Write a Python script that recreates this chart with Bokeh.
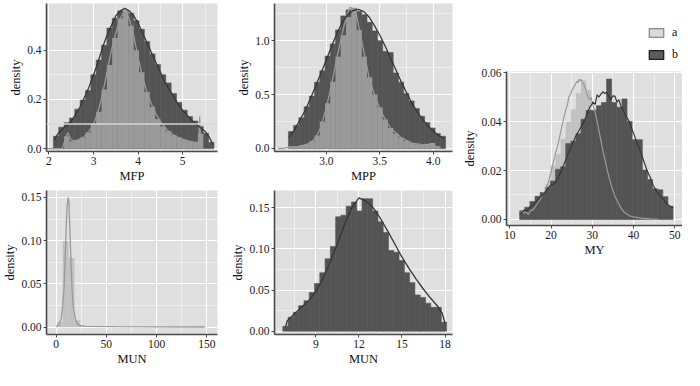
from bokeh.plotting import figure
from bokeh.layouts import row, column
from bokeh.models import (Range1d, FixedTicker, PrintfTickFormatter, Span, Legend,
                          LegendItem, ColumnDataSource)
from bokeh.embed import file_html
from bokeh.resources import INLINE

# ---------------- data ----------------
# MFP panel
MFP_BIN_LEFT = [2.10, 2.22, 2.34, 2.46, 2.58, 2.70, 2.82, 2.94, 3.06, 3.18,
                3.30, 3.42, 3.54, 3.66, 3.78, 3.90, 4.02, 4.14, 4.26, 4.38,
                4.50, 4.62, 4.74, 4.86, 4.98, 5.10, 5.22, 5.34, 5.46, 5.58]
MFP_BIN_WIDTH = 0.12
MFP_B_HIST = [0.05, 0.087, 0.105, 0.124, 0.16, 0.197, 0.236, 0.30, 0.36, 0.42,
              0.49, 0.53, 0.56, 0.56, 0.55, 0.52, 0.485, 0.435, 0.385, 0.342,
              0.30, 0.267, 0.224, 0.187, 0.156, 0.13, 0.112, 0.09, 0.062, 0.025]
MFP_A_HIST = [0.0, 0.0, 0.05, 0.03, 0.035, 0.045, 0.065, 0.10, 0.15, 0.24,
              0.34, 0.45, 0.53, 0.56, 0.50, 0.40, 0.31, 0.23, 0.17, 0.12,
              0.09, 0.07, 0.055, 0.045, 0.035, 0.03, 0.025, 0.06, 0.0, 0.0]
MFP_A_X = [1.95, 2.30, 2.35, 2.42, 2.50, 2.60, 2.70, 2.80, 2.90, 3.00, 3.10, 3.20,
           3.30, 3.40, 3.50, 3.60, 3.70, 3.80, 3.90, 4.00, 4.10, 4.20, 4.30, 4.40,
           4.50, 4.60, 4.70, 4.80, 4.90, 5.00, 5.10, 5.20, 5.30, 5.36, 5.38, 5.40, 5.45]
MFP_A_DENS = [0.0, 0.0, 0.03, 0.065, 0.035, 0.03, 0.04, 0.05, 0.07, 0.10, 0.15, 0.22,
              0.31, 0.40, 0.47, 0.53, 0.56, 0.53, 0.46, 0.37, 0.29, 0.23, 0.18, 0.14,
              0.11, 0.085, 0.068, 0.055, 0.045, 0.038, 0.032, 0.028, 0.025, 0.025, 0.13, 0.03, 0.0]
MFP_B_X = [2.12, 2.20, 2.30, 2.40, 2.50, 2.60, 2.70, 2.80, 2.90, 3.00, 3.10, 3.20,
           3.30, 3.40, 3.50, 3.60, 3.70, 3.80, 3.90, 4.00, 4.10, 4.20, 4.30, 4.40,
           4.50, 4.60, 4.70, 4.80, 4.90, 5.00, 5.10, 5.20, 5.30, 5.40, 5.50, 5.60, 5.68]
MFP_B_DENS = [0.035, 0.06, 0.08, 0.095, 0.11, 0.14, 0.17, 0.21, 0.25, 0.30, 0.35, 0.41,
              0.46, 0.50, 0.54, 0.56, 0.57, 0.56, 0.54, 0.51, 0.47, 0.43, 0.39, 0.35,
              0.31, 0.27, 0.24, 0.21, 0.18, 0.155, 0.135, 0.115, 0.10, 0.085, 0.07, 0.045, 0.015]

# MPP panel
MPP_BIN_LEFT = [2.645, 2.694, 2.743, 2.792, 2.841, 2.890, 2.939, 2.988, 3.037, 3.086,
                3.135, 3.184, 3.233, 3.282, 3.331, 3.380, 3.429, 3.478, 3.527, 3.576,
                3.625, 3.674, 3.723, 3.772, 3.821, 3.870, 3.919, 3.968, 4.017, 4.066]
MPP_BIN_WIDTH = 0.049
MPP_B_HIST = [0.157, 0.214, 0.285, 0.386, 0.486, 0.614, 0.72, 0.857, 0.97, 1.10,
              1.23, 1.285, 1.30, 1.27, 1.24, 1.17, 1.09, 1.0, 0.9, 0.89,
              0.70, 0.614, 0.51, 0.44, 0.37, 0.30, 0.24, 0.19, 0.14, 0.114]
MPP_A_HIST = [0.02, 0.02, 0.03, 0.04, 0.07, 0.12, 0.25, 0.42, 0.62, 0.85,
              1.05, 1.22, 1.30, 1.10, 0.85, 0.66, 0.50, 0.38, 0.27, 0.19,
              0.14, 0.10, 0.07, 0.05, 0.04, 0.035, 0.035, 0.05, 0.02, 0.0]
MPP_A_X = [2.55, 2.60, 2.65, 2.75, 2.85, 2.90, 2.95, 3.00, 3.05, 3.10, 3.15, 3.18, 3.22,
           3.27, 3.30, 3.35, 3.40, 3.45, 3.50, 3.55, 3.60, 3.70, 3.80, 3.90, 4.00, 4.05]
MPP_A_DENS = [0.0, 0.0, 0.01, 0.02, 0.05, 0.10, 0.20, 0.38, 0.60, 0.85, 1.07, 1.20, 1.31,
              1.29, 1.15, 0.90, 0.66, 0.50, 0.37, 0.27, 0.19, 0.10, 0.05, 0.035, 0.04, 0.0]
MPP_B_X = [2.65, 2.70, 2.75, 2.80, 2.85, 2.90, 2.95, 3.00, 3.05, 3.10, 3.15, 3.20, 3.25,
           3.30, 3.35, 3.40, 3.45, 3.50, 3.55, 3.60, 3.65, 3.70, 3.75, 3.80, 3.85, 3.90,
           3.95, 4.00, 4.05, 4.10]
MPP_B_DENS = [0.10, 0.17, 0.26, 0.35, 0.46, 0.58, 0.70, 0.82, 0.95, 1.07, 1.17, 1.24, 1.28,
              1.29, 1.27, 1.22, 1.14, 1.05, 0.95, 0.84, 0.73, 0.62, 0.52, 0.42, 0.34, 0.27,
              0.21, 0.16, 0.12, 0.09]

# MY panel
MY_BIN_LEFT = [12.40, 13.64, 14.88, 16.12, 17.36, 18.60, 19.84, 21.08, 22.32, 23.56,
               24.80, 26.04, 27.28, 28.52, 29.76, 31.00, 32.24, 33.48, 34.72, 35.96,
               37.20, 38.44, 39.68, 40.92, 42.16, 43.40, 44.64, 45.88, 47.12, 48.36]
MY_BIN_WIDTH = 1.24
MY_B_HIST = [0.0035, 0.005, 0.0073, 0.0095, 0.011, 0.013, 0.0157, 0.0205, 0.0215, 0.031,
             0.032, 0.035, 0.041, 0.0446, 0.0446, 0.0465, 0.0478, 0.0574, 0.0478, 0.0459,
             0.0493, 0.040, 0.0326, 0.0326, 0.0202, 0.0163, 0.0125, 0.0121, 0.0093, 0.0054]
MY_A_HIST = [0.003, 0.003, 0.005, 0.008, 0.011, 0.0144, 0.022, 0.0266, 0.033, 0.040,
             0.045, 0.0516, 0.0568, 0.053, 0.044, 0.034, 0.024, 0.016, 0.010, 0.006,
             0.004, 0.002, 0.001, 0.0005, 0.0, 0.0, 0.0, 0.0, 0.0, 0.0]
MY_A_X = [12.4, 13.0, 13.5, 14.0, 14.5, 15.0, 15.7, 16.5, 17.3, 18.0, 18.6, 19.3, 20.0,
          20.5, 21.1, 21.6, 22.0, 22.5, 22.9, 23.3, 23.6, 24.0, 24.3, 24.7, 25.1, 25.5,
          25.8, 26.3, 26.6, 26.8, 27.1, 27.3, 27.6, 27.9, 28.3, 28.6, 29.0, 29.4, 29.7,
          30.1, 30.5, 31.2, 31.9, 32.6, 33.4, 34.1, 34.8, 35.5, 36.3, 37.0, 37.7, 39.0,
          40.0, 42.0, 44.0, 46.0]
MY_A_DENS = [0.002, 0.0035, 0.0025, 0.003, 0.002, 0.0035, 0.004, 0.006, 0.008, 0.010,
             0.0118, 0.015, 0.019, 0.023, 0.027, 0.030, 0.033, 0.037, 0.040, 0.043, 0.045,
             0.047, 0.050, 0.051, 0.053, 0.054, 0.055, 0.0565, 0.056, 0.0574, 0.0568,
             0.0572, 0.0562, 0.0555, 0.054, 0.052, 0.050, 0.049, 0.050, 0.047, 0.045,
             0.040, 0.034, 0.028, 0.022, 0.017, 0.013, 0.0095, 0.0068, 0.0045, 0.003,
             0.0015, 0.001, 0.0005, 0.0002, 0.0]
MY_B_X = [12.4, 13.0, 13.6, 14.2, 14.8, 15.7, 16.5, 17.3, 18.0, 18.6, 19.3, 20.0, 21.1,
          22.0, 22.9, 23.5, 24.2, 25.1, 26.0, 27.2, 28.0, 28.7, 29.4, 29.7, 30.2, 30.7,
          31.2, 31.6, 32.0, 32.6, 33.0, 33.5, 34.0, 34.5, 35.0, 35.5, 36.0, 36.5, 36.9,
          37.4, 38.3, 39.0, 39.8, 40.5, 41.2, 41.9, 42.6, 43.3, 44.1, 44.8, 45.5, 46.2,
          47.0, 47.7, 48.4, 49.0, 49.6]
MY_B_DENS = [0.002, 0.003, 0.004, 0.0035, 0.005, 0.006, 0.0075, 0.009, 0.010, 0.011,
             0.013, 0.014, 0.015, 0.018, 0.0215, 0.024, 0.027, 0.0305, 0.034, 0.0376,
             0.040, 0.043, 0.0459, 0.0465, 0.048, 0.047, 0.051, 0.050, 0.051, 0.0523,
             0.0515, 0.052, 0.0504, 0.049, 0.0505, 0.0504, 0.048, 0.049, 0.0465, 0.045,
             0.042, 0.040, 0.0362, 0.033, 0.0298, 0.027, 0.0234, 0.020, 0.017, 0.014,
             0.0118, 0.010, 0.0087, 0.0072, 0.006, 0.0052, 0.0049]

# MUN panel (wide range, group a only)
MUN1_BIN_LEFT = [0.65, 6.50, 12.35, 18.20]
MUN1_BIN_WIDTH = 5.85
MUN1_A_HIST = [0.006, 0.0995, 0.080, 0.008]
MUN1_A_X = [0, 3, 5, 6.5, 8, 9, 10, 11, 12, 12.7, 13.8, 15, 16, 17.5, 19, 21, 24, 30,
            60, 100, 148]
MUN1_A_DENS = [0.0005, 0.003, 0.010, 0.025, 0.047, 0.08, 0.115, 0.14, 0.150, 0.145,
               0.108, 0.07, 0.04, 0.02, 0.0104, 0.004, 0.0016, 0.0008, 0.0005, 0.0003,
               0.0002]

# MUN panel (narrow range, group b only)
MUN2_BIN_LEFT = [6.700, 7.068, 7.436, 7.804, 8.172, 8.540, 8.908, 9.276, 9.644, 10.012,
                 10.380, 10.748, 11.116, 11.484, 11.852, 12.220, 12.588, 12.956, 13.324,
                 13.692, 14.060, 14.428, 14.796, 15.164, 15.532, 15.900, 16.268, 16.636,
                 17.004, 17.372, 17.740]
MUN2_BIN_WIDTH = 0.368
MUN2_B_HIST = [0.006, 0.017, 0.023, 0.031, 0.037, 0.047, 0.058, 0.071, 0.088, 0.103,
               0.139, 0.141, 0.152, 0.157, 0.146, 0.161, 0.161, 0.146, 0.133, 0.120,
               0.098, 0.096, 0.086, 0.071, 0.059, 0.044, 0.041, 0.034, 0.029, 0.029, 0.011]
MUN2_B_X = [6.9, 7.0, 7.5, 8.0, 8.5, 9.0, 9.5, 10.0, 10.5, 11.0, 11.5, 12.0, 12.5, 13.0,
            13.5, 14.0, 14.5, 15.0, 15.5, 16.0, 16.5, 17.0, 17.5, 17.8, 18.0]
MUN2_B_DENS = [0.005, 0.0125, 0.021, 0.029, 0.037, 0.048, 0.064, 0.084, 0.106, 0.130,
               0.150, 0.162, 0.158, 0.150, 0.137, 0.122, 0.106, 0.090, 0.076, 0.063,
               0.051, 0.040, 0.030, 0.022, 0.010]

# tick labels
MFP_XTICKS, MFP_XMINOR = [2, 3, 4, 5], [2.5, 3.5, 4.5, 5.5]
MFP_YTICKS, MFP_YMINOR = [0.0, 0.2, 0.4], [0.1, 0.3, 0.5]
MPP_XTICKS, MPP_XMINOR = [3.0, 3.5, 4.0], [2.75, 3.25, 3.75]
MPP_YTICKS, MPP_YMINOR = [0.0, 0.5, 1.0], [0.25, 0.75, 1.25]
MY_XTICKS, MY_XMINOR = [10, 20, 30, 40, 50], [15, 25, 35, 45]
MY_YTICKS, MY_YMINOR = [0.00, 0.02, 0.04, 0.06], [0.01, 0.03, 0.05]
MUN1_XTICKS, MUN1_XMINOR = [0, 50, 100, 150], [25, 75, 125]
MUN_YTICKS, MUN_YMINOR = [0.00, 0.05, 0.10, 0.15], [0.025, 0.075, 0.125]
MUN2_XTICKS, MUN2_XMINOR = [9, 12, 15, 18], [7.5, 10.5, 13.5, 16.5]
GROUPS = ["a", "b"]

# ---------------- style ----------------
BG = "#dfdfdf"
DARK = "#545454"
LIGHT = "#b5b5b5"
LIGHT_ALPHA = 0.72
DARK_LINE = "#363636"
LIGHT_LINE = "#9a9a9a"
FONT = "Liberation Serif"


def make_panel(width, height, xr, yr, xt, xm, yt, ym, xfmt, yfmt, xlabel,
               top=3, right=6, bottom=30, left=30):
    p = figure(width=width, height=height, x_range=Range1d(*xr), y_range=Range1d(*yr),
               output_backend="svg", toolbar_location=None,
               min_border_left=left, min_border_right=right,
               min_border_top=top, min_border_bottom=bottom,
               background_fill_color=BG, border_fill_color="white")
    p.outline_line_color = None
    xtick = FixedTicker(ticks=xt, minor_ticks=xm)
    ytick = FixedTicker(ticks=yt, minor_ticks=ym)
    p.xaxis.ticker = xtick
    p.yaxis.ticker = ytick
    p.xgrid.ticker = xtick
    p.ygrid.ticker = ytick
    p.xaxis.formatter = PrintfTickFormatter(format=xfmt)
    p.yaxis.formatter = PrintfTickFormatter(format=yfmt)
    for g in (p.xgrid, p.ygrid):
        g.grid_line_color = "white"
        g.grid_line_width = 1.1
        g.minor_grid_line_color = "white"
        g.minor_grid_line_width = 0.6
        g.minor_grid_line_alpha = 0.8
    for ax in (p.xaxis, p.yaxis):
        ax.axis_line_color = "#4a4a4a"
        ax.axis_line_width = 1.6
        ax.major_tick_line_color = "#4a4a4a"
        ax.major_tick_out = 3
        ax.major_tick_in = 0
        ax.minor_tick_line_color = None
        ax.major_label_text_font = FONT
        ax.major_label_text_font_size = "11.5px"
        ax.major_label_text_color = "#1a1a1a"
        ax.major_label_standoff = 1
        ax.axis_label_text_font = FONT
        ax.axis_label_text_font_size = "12.5px"
        ax.axis_label_text_font_style = "normal"
        ax.axis_label_text_color = "#111111"
        ax.axis_label_standoff = 1
    p.xaxis.axis_label = xlabel
    p.yaxis.axis_label = "density"
    return p


def bar_source(lefts, width, tops):
    return ColumnDataSource(dict(left=lefts, right=[l + width for l in lefts], top=tops))


def bars(p, src, color, alpha=1.0, seam=True):
    return p.quad(left="left", right="right", top="top", bottom=0, source=src,
                  fill_color=color, fill_alpha=alpha,
                  line_color=color if seam else None, line_width=0.6, line_alpha=alpha)


# Panel MFP
p1 = make_panel(228, 185, (1.945, 5.78), (-0.012, 0.59), MFP_XTICKS, MFP_XMINOR,
                MFP_YTICKS, MFP_YMINOR, "%d", "%.1f", "MFP", top=3, right=11)
bars(p1, bar_source(MFP_BIN_LEFT, MFP_BIN_WIDTH, MFP_B_HIST), DARK)
bars(p1, bar_source(MFP_BIN_LEFT, MFP_BIN_WIDTH, MFP_A_HIST), LIGHT, LIGHT_ALPHA, seam=False)
p1.line(MFP_A_X, MFP_A_DENS, line_color=LIGHT_LINE, line_width=1.3)
p1.line(MFP_B_X, MFP_B_DENS, line_color=DARK_LINE, line_width=1.3)
p1.add_layout(Span(location=0.1, dimension="width", line_color="#d6d6d6", line_width=1.5))

# Panel MPP
p2 = make_panel(232, 185, (2.515, 4.18), (-0.028, 1.345), MPP_XTICKS, MPP_XMINOR,
                MPP_YTICKS, MPP_YMINOR, "%.1f", "%.1f", "MPP", top=3, right=8)
bars(p2, bar_source(MPP_BIN_LEFT, MPP_BIN_WIDTH, MPP_B_HIST), DARK)
bars(p2, bar_source(MPP_BIN_LEFT, MPP_BIN_WIDTH, MPP_A_HIST), LIGHT, LIGHT_ALPHA, seam=False)
p2.line(MPP_A_X, MPP_A_DENS, line_color=LIGHT_LINE, line_width=1.3)
p2.line(MPP_B_X, MPP_B_DENS, line_color=DARK_LINE, line_width=1.3)

# MY data sources (shared with the legend holder)
my_a_src = bar_source(MY_BIN_LEFT, MY_BIN_WIDTH, MY_A_HIST)
my_b_src = bar_source(MY_BIN_LEFT, MY_BIN_WIDTH, MY_B_HIST)

# Legend holder above the MY panel (its ranges keep the bars out of view;
# only the legend keys are shown). Its frame is aligned with the MY frame.
pleg = figure(width=222, height=64, x_range=Range1d(0, 1), y_range=Range1d(0, 1),
              output_backend="svg", toolbar_location=None, min_border=0,
              background_fill_color="white", border_fill_color="white")
pleg.axis.visible = False
pleg.grid.visible = False
pleg.outline_line_color = None
leg_a = pleg.quad(left="left", right="right", top="top", bottom=0, source=my_a_src,
                  fill_color="#d9d9d9", line_color="#8a8a8a", line_width=1.3)
leg_b = pleg.quad(left="left", right="right", top="top", bottom=0, source=my_b_src,
                  fill_color="#5c5c5c", line_color="#1e1e1e", line_width=1.3)
legend = Legend(items=[LegendItem(label=GROUPS[0], renderers=[leg_a]),
                       LegendItem(label=GROUPS[1], renderers=[leg_b])],
                location="bottom_right", orientation="vertical",
                glyph_width=18, glyph_height=11, label_height=11, label_width=8,
                label_standoff=7, spacing=7, padding=0, margin=2,
                label_text_font=FONT, label_text_font_size="12px",
                label_text_color="#111111",
                background_fill_alpha=0, border_line_alpha=0)
pleg.add_layout(legend, "center")

# Panel MY
p3 = make_panel(222, 195, (9.2, 51.9), (-0.0025, 0.0605), MY_XTICKS, MY_XMINOR,
                MY_YTICKS, MY_YMINOR, "%d", "%.2f", "MY", top=7, right=0)
bars(p3, my_a_src, LIGHT, LIGHT_ALPHA, seam=False)
bars(p3, my_b_src, DARK)
p3.line(MY_A_X, MY_A_DENS, line_color=LIGHT_LINE, line_width=1.2)
p3.line(MY_B_X, MY_B_DENS, line_color=DARK_LINE, line_width=1.2)

# Panel MUN (wide)
p4 = make_panel(228, 183, (-9.6, 160.7), (-0.0085, 0.158), MUN1_XTICKS, MUN1_XMINOR,
                MUN_YTICKS, MUN_YMINOR, "%d", "%.2f", "MUN", top=5, right=6)
bars(p4, bar_source(MUN1_BIN_LEFT, MUN1_BIN_WIDTH, MUN1_A_HIST), LIGHT, LIGHT_ALPHA, seam=False)
p4.line(MUN1_A_X, MUN1_A_DENS, line_color=LIGHT_LINE, line_width=1.3)

# Panel MUN (narrow)
p5 = make_panel(232, 183, (6.12, 18.52), (-0.004, 0.171), MUN2_XTICKS, MUN2_XMINOR,
                MUN_YTICKS, MUN_YMINOR, "%d", "%.2f", "MUN", top=5, right=6)
bars(p5, bar_source(MUN2_BIN_LEFT, MUN2_BIN_WIDTH, MUN2_B_HIST), DARK)
p5.line(MUN2_B_X, MUN2_B_DENS, line_color=DARK_LINE, line_width=1.3)

layout = row(column(p1, p4), column(p2, p5), column(pleg, p3))

open("out.html", "w").write(file_html(layout, INLINE))
